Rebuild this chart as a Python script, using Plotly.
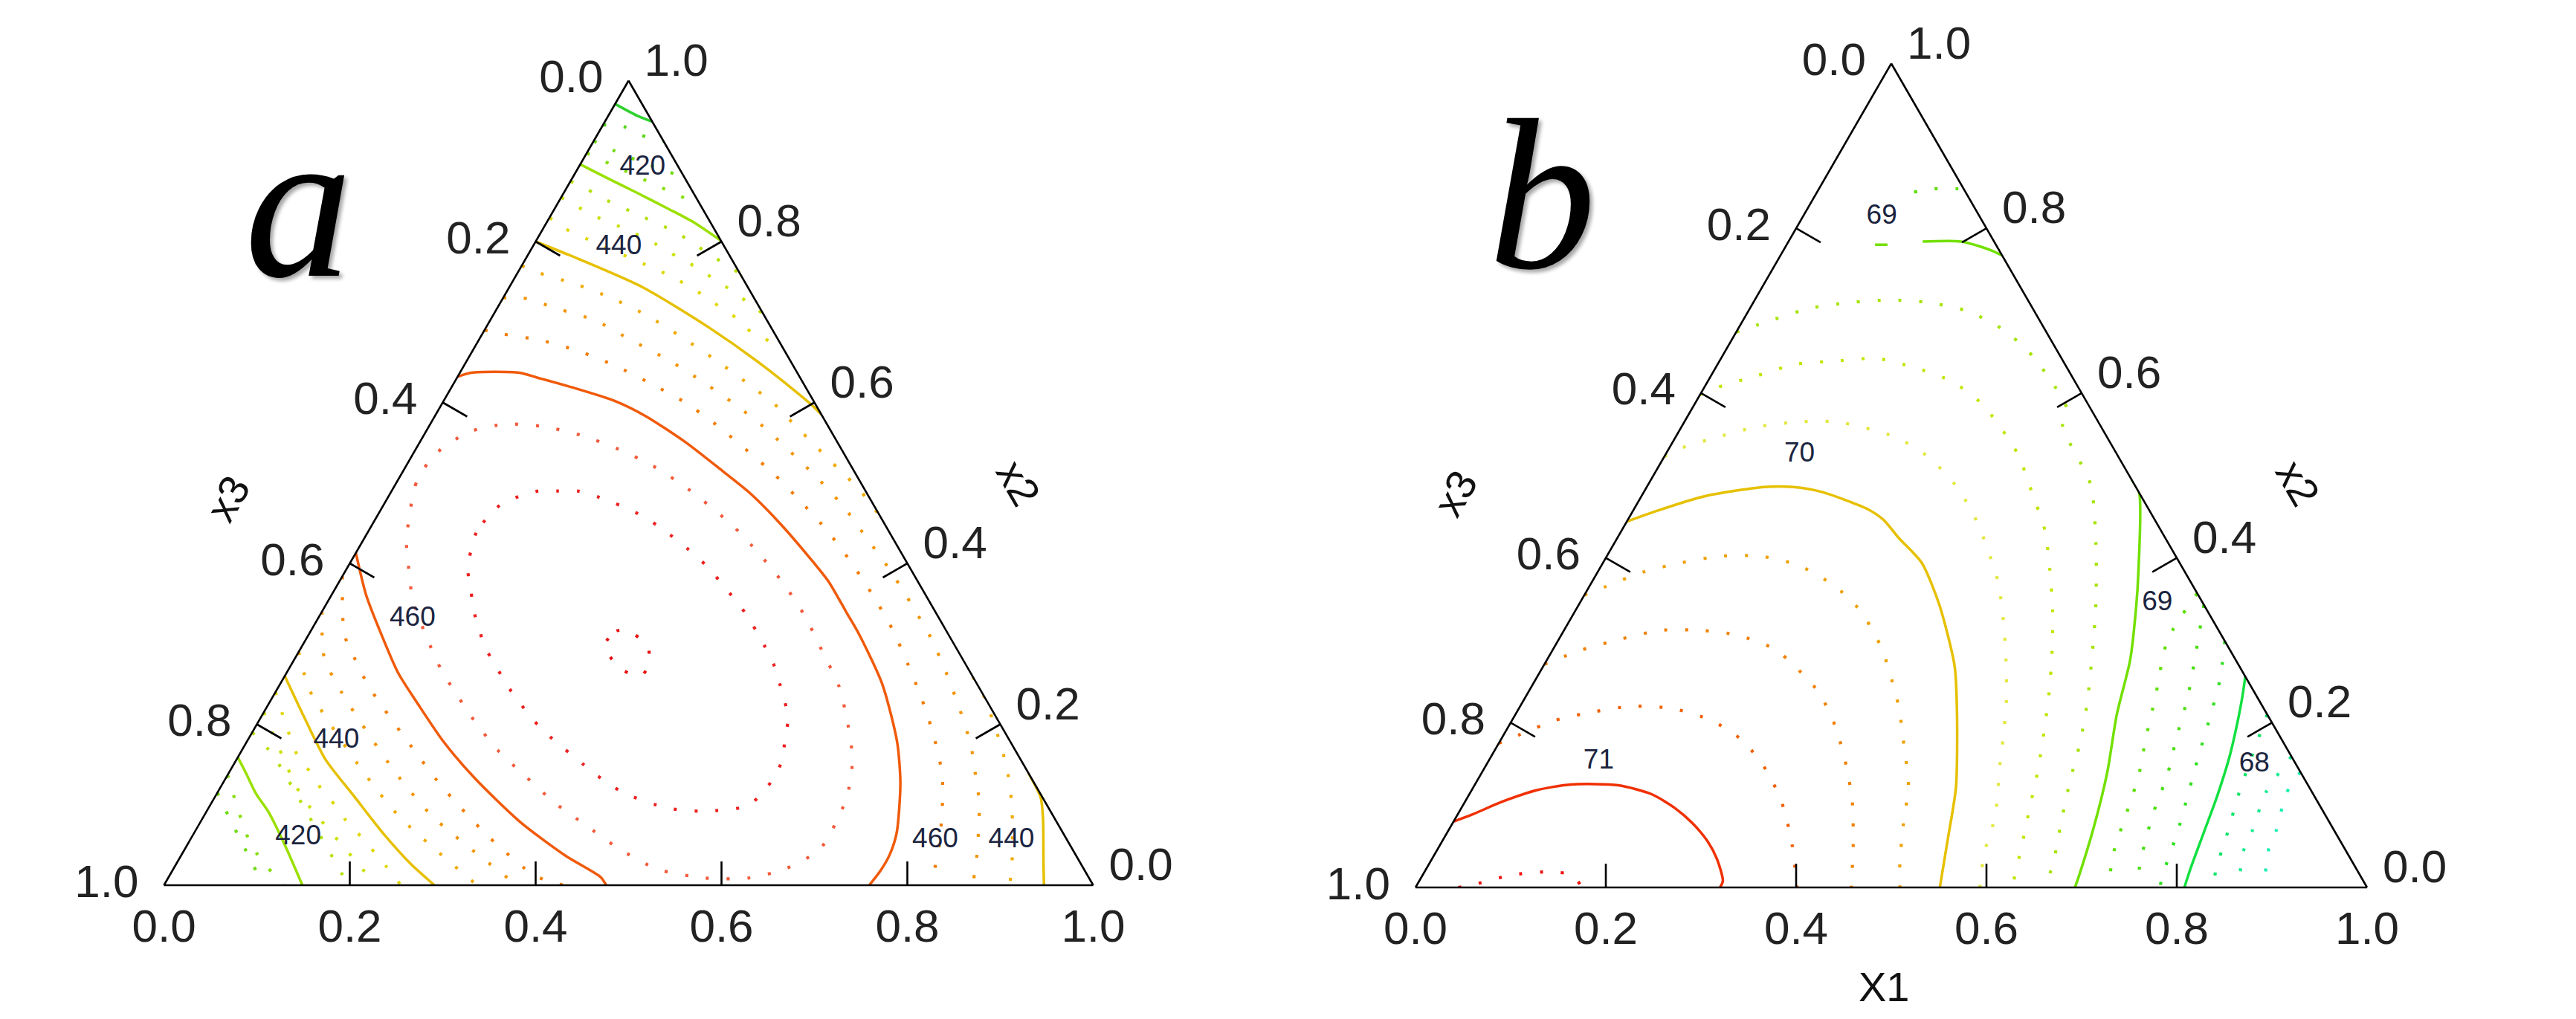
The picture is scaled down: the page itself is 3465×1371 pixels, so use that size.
import plotly.graph_objects as go

# ============================ DATA ============================
# Ternary mapping: top vertex = x2, bottom-left = x3, bottom-right = X1
# Contour lines are stored as (X1, x2) fractions; x3 = 1 - X1 - x2.

tick_vals = [0.0, 0.2, 0.4, 0.6, 0.8, 1.0]
tick_text = ["1.0", "0.8", "0.6", "0.4", "0.2", "0.0"]
edge_tick_vals = [0.2, 0.4, 0.6, 0.8]

# ---------- panel a ----------
A400_x1 = [0.0, 0.032, 0.051]
A400_x2 = [0.971, 0.956, 0.949]
A405_x1 = [0.0, 0.023, 0.048, 0.075]
A405_x2 = [0.945, 0.943, 0.932, 0.925]
A410_x1 = [0.0, 0.035, 0.075, 0.12]
A410_x2 = [0.925, 0.91, 0.895, 0.88]
A415_x1 = [0.0, 0.04, 0.09, 0.155]
A415_x2 = [0.91, 0.893, 0.872, 0.845]
A420_top_x1 = [0.0, 0.033, 0.080, 0.124, 0.158, 0.199]
A420_top_x2 = [0.896, 0.881, 0.860, 0.840, 0.824, 0.801]
A425_top_x1 = [0.0, 0.023, 0.047, 0.097, 0.123, 0.145, 0.170, 0.240]
A425_top_x2 = [0.875, 0.865, 0.853, 0.832, 0.821, 0.812, 0.798, 0.760]
A430_top_x1 = [0.0, 0.022, 0.047, 0.095, 0.143, 0.169, 0.192, 0.217, 0.242, 0.265, 0.290]
A430_top_x2 = [0.855, 0.844, 0.832, 0.813, 0.791, 0.777, 0.767, 0.752, 0.739, 0.725, 0.710]
A435_top_x1 = [0.0, 0.024, 0.169, 0.216, 0.240, 0.265, 0.289, 0.330]
A435_top_x2 = [0.830, 0.816, 0.756, 0.732, 0.718, 0.704, 0.687, 0.670]
A440_top_x1 = [0.0, 0.058, 0.144, 0.242, 0.328, 0.400, 0.415]
A440_top_x2 = [0.800, 0.778, 0.743, 0.692, 0.642, 0.596, 0.585]
A445_top_x1 = [0.0, 0.023, 0.070, 0.116, 0.166, 0.217, 0.267, 0.314, 0.358, 0.382, 0.476, 0.500, 0.521, 0.541]
A445_top_x2 = [0.770, 0.761, 0.747, 0.730, 0.708, 0.681, 0.653, 0.625, 0.598, 0.580, 0.511, 0.494, 0.476, 0.459]
A450_top_x1 = [0.0, 0.021, 0.067, 0.113, 0.165, 0.216, 0.261, 0.310, 0.360, 0.453, 0.498, 0.541, 0.584,
               0.631, 0.673, 0.709, 0.746, 0.782, 0.811, 0.826, 0.861, 0.870]
A450_top_x2 = [0.730, 0.730, 0.716, 0.702, 0.677, 0.653, 0.629, 0.601, 0.570, 0.504, 0.469, 0.431, 0.393,
               0.348, 0.306, 0.265, 0.220, 0.173, 0.127, 0.103, 0.026, 0.0]
A455_top_x1 = [0.0, 0.023, 0.068, 0.114, 0.162, 0.211, 0.259, 0.307, 0.401, 0.448, 0.493, 0.537, 0.583,
               0.624, 0.663, 0.701, 0.736, 0.769, 0.791, 0.810, 0.820, 0.826]
A455_top_x2 = [0.690, 0.685, 0.677, 0.664, 0.646, 0.624, 0.601, 0.573, 0.511, 0.476, 0.441, 0.403, 0.360,
               0.319, 0.275, 0.230, 0.185, 0.137, 0.093, 0.048, 0.018, 0.0]
A460_x1 = [0.0, 0.012, 0.064, 0.086, 0.129, 0.184, 0.227, 0.287, 0.345, 0.386, 0.439, 0.495, 0.527,
           0.565, 0.592, 0.648, 0.700, 0.729, 0.756, 0.762, 0.762, 0.759]
A460_x2 = [0.632, 0.637, 0.637, 0.631, 0.619, 0.602, 0.583, 0.550, 0.514, 0.488, 0.449, 0.404, 0.377,
           0.339, 0.312, 0.250, 0.178, 0.127, 0.065, 0.038, 0.017, 0.0]
A460_bl_x1 = [0.0, 0.037, 0.077, 0.120, 0.161, 0.211, 0.268, 0.345, 0.415, 0.465, 0.476]
A460_bl_x2 = [0.413, 0.361, 0.313, 0.264, 0.225, 0.179, 0.133, 0.078, 0.036, 0.010, 0.0]
A465_x1 = [0.047, 0.022, 0.021, 0.024, 0.046, 0.081, 0.124, 0.170, 0.218, 0.266, 0.317, 0.387, 0.432,
           0.478, 0.523, 0.561, 0.603, 0.634, 0.663, 0.680, 0.685, 0.683, 0.658, 0.625, 0.578, 0.521,
           0.464, 0.416, 0.370, 0.319, 0.275, 0.230, 0.187, 0.167, 0.127, 0.090, 0.073, 0.047]
A465_x2 = [0.428, 0.497, 0.518, 0.536, 0.563, 0.573, 0.570, 0.559, 0.542, 0.521, 0.493, 0.448, 0.414,
           0.376, 0.334, 0.293, 0.247, 0.203, 0.156, 0.110, 0.064, 0.043, 0.020, 0.009, 0.009, 0.020,
           0.047, 0.075, 0.102, 0.137, 0.168, 0.206, 0.246, 0.265, 0.310, 0.355, 0.383, 0.428]
A470_x1 = [0.120, 0.117, 0.122, 0.131, 0.148, 0.162, 0.179, 0.197, 0.219, 0.239, 0.282, 0.303, 0.327,
           0.375, 0.397, 0.437, 0.493, 0.536, 0.580, 0.586, 0.590, 0.587, 0.578, 0.569, 0.555, 0.537,
           0.521, 0.499, 0.459, 0.437, 0.415, 0.392, 0.367, 0.318, 0.293, 0.270, 0.247, 0.225, 0.200,
           0.179, 0.158, 0.140, 0.127, 0.120]
A470_x2 = [0.459, 0.438, 0.417, 0.392, 0.365, 0.342, 0.320, 0.296, 0.275, 0.254, 0.216, 0.199, 0.182,
           0.151, 0.137, 0.115, 0.096, 0.092, 0.099, 0.116, 0.133, 0.158, 0.180, 0.205, 0.227, 0.251,
           0.272, 0.296, 0.336, 0.355, 0.373, 0.392, 0.410, 0.441, 0.455, 0.466, 0.475, 0.483, 0.490,
           0.490, 0.490, 0.483, 0.475, 0.459]
A475_x1 = [0.325, 0.329, 0.342, 0.373, 0.385, 0.384, 0.375, 0.352, 0.325]
A475_x2 = [0.299, 0.316, 0.316, 0.296, 0.272, 0.261, 0.261, 0.272, 0.299]
A410_bl_x1 = [0.0, 0.020, 0.107]
A410_bl_x2 = [0.115, 0.093, 0.0]
A415_bl_x1 = [0.0, 0.069, 0.128]
A415_bl_x2 = [0.137, 0.050, 0.0]
A420_bl_x1 = [0.0, 0.018, 0.042, 0.067, 0.106, 0.149]
A420_bl_x2 = [0.159, 0.140, 0.114, 0.091, 0.049, 0.0]
A425_bl_x1 = [0.0, 0.034, 0.055, 0.189, 0.198]
A425_bl_x2 = [0.190, 0.164, 0.144, 0.0095, 0.0]
A430_bl_x1 = [0.0, 0.077, 0.098, 0.216, 0.225]
A430_bl_x2 = [0.215, 0.127, 0.106, 0.0095, 0.0]
A435_bl_x1 = [0.0, 0.066, 0.092, 0.110, 0.135, 0.155, 0.176, 0.228, 0.255]
A435_bl_x2 = [0.240, 0.158, 0.137, 0.119, 0.099, 0.081, 0.065, 0.023, 0.0]
A440_bl_x1 = [0.0, 0.050, 0.096, 0.150, 0.203, 0.253, 0.291]
A440_bl_x2 = [0.260, 0.205, 0.156, 0.110, 0.065, 0.026, 0.0]
A445_bl_x1 = [0.0, 0.036, 0.144, 0.211, 0.337]
A445_bl_x2 = [0.290, 0.242, 0.141, 0.085, 0.0]
A450_bl_x1 = [0.0, 0.031, 0.072, 0.178, 0.247, 0.380]
A450_bl_x2 = [0.340, 0.283, 0.239, 0.141, 0.085, 0.0]
A455_bl_x1 = [0.0, 0.038, 0.057, 0.097, 0.229, 0.273, 0.321, 0.393, 0.430]
A455_bl_x2 = [0.384, 0.312, 0.290, 0.247, 0.130, 0.095, 0.059, 0.012, 0.0]
A440_br_x1 = [0.861, 0.889, 0.905, 0.933, 0.947]
A440_br_x2 = [0.139, 0.109, 0.082, 0.027, 0.0]
A445_br_x1 = [0.741, 0.765, 0.799, 0.834, 0.863, 0.901, 0.910]
A445_br_x2 = [0.259, 0.237, 0.193, 0.146, 0.099, 0.023, 0.0]

A_label_text = ["420", "440", "460", "440", "420", "460", "440"]
A_label_x1 = [0.069, 0.093, 0.102, 0.096, 0.115, 0.802, 0.884]
A_label_x2 = [0.892, 0.793, 0.331, 0.179, 0.059, 0.056, 0.056]

# ---------- panel b ----------
B6875_top_x1 = [0.102, 0.121, 0.145, 0.152]
B6875_top_x2 = [0.844, 0.848, 0.848, 0.848]
B69_top_x1 = [0.093, 0.106, None, 0.141, 0.181, 0.201, 0.219, 0.233]
B69_top_x2 = [0.780, 0.780, None, 0.784, 0.784, 0.779, 0.773, 0.767]
B6925_x1 = [0.0, 0.031, 0.063, 0.102, 0.142, 0.184, 0.232, 0.281, 0.326, 0.370, 0.394, 0.400, 0.465,
            0.506, 0.543, 0.565, 0.595, 0.611, 0.623, 0.638, 0.654, 0.662]
B6925_x2 = [0.674, 0.689, 0.703, 0.710, 0.713, 0.710, 0.699, 0.676, 0.645, 0.606, 0.581, 0.560, 0.489,
            0.418, 0.344, 0.294, 0.221, 0.174, 0.130, 0.082, 0.034, 0.0]
B695_x1 = [0.0, 0.014, 0.048, 0.082, 0.123, 0.164, 0.209, 0.257, 0.303, 0.369, 0.406, 0.445, 0.473,
           0.501, 0.525, 0.547, 0.566, 0.583, 0.597, 0.612, 0.626, 0.628]
B695_x2 = [0.598, 0.607, 0.621, 0.635, 0.639, 0.642, 0.631, 0.614, 0.586, 0.527, 0.482, 0.433, 0.387,
           0.337, 0.288, 0.238, 0.189, 0.142, 0.097, 0.050, 0.004, 0.0]
B6975_x1 = [0.0, 0.012, 0.045, 0.079, 0.119, 0.161, 0.230, 0.277, 0.326, 0.368, 0.426, 0.454, 0.482,
            0.507, 0.527, 0.538, 0.566, 0.577, 0.593]
B6975_x2 = [0.523, 0.533, 0.547, 0.559, 0.565, 0.565, 0.547, 0.523, 0.486, 0.444, 0.372, 0.327, 0.277,
            0.228, 0.181, 0.153, 0.086, 0.041, 0.0]
B70_x1 = [0.0, 0.025, 0.067, 0.123, 0.154, 0.187, 0.246, 0.269, 0.296, 0.335, 0.379, 0.432, 0.462,
          0.507, 0.531, 0.551]
B70_x2 = [0.444, 0.457, 0.475, 0.486, 0.486, 0.480, 0.459, 0.446, 0.424, 0.394, 0.343, 0.269, 0.214,
          0.122, 0.056, 0.0]
B7025_x1 = [0.0, 0.017, 0.048, 0.082, 0.119, 0.162, 0.207, 0.259, 0.302, 0.326, 0.346, 0.397, 0.428,
            0.456, 0.475, 0.494, 0.509]
B7025_x2 = [0.355, 0.365, 0.383, 0.394, 0.402, 0.402, 0.391, 0.365, 0.334, 0.310, 0.289, 0.221, 0.171,
            0.124, 0.075, 0.030, 0.0]
B705_x1 = [0.0, 0.030, 0.064, 0.101, 0.144, 0.186, 0.235, 0.304, 0.343, 0.380, 0.407, 0.433, 0.458]
B705_x2 = [0.271, 0.288, 0.301, 0.312, 0.312, 0.306, 0.288, 0.238, 0.196, 0.146, 0.104, 0.054, 0.0]
B7075_x1 = [0.0, 0.016, 0.046, 0.080, 0.118, 0.162, 0.209, 0.255, 0.301, 0.339, 0.371, 0.401]
B7075_x2 = [0.175, 0.185, 0.203, 0.213, 0.220, 0.217, 0.203, 0.178, 0.139, 0.096, 0.050, 0.0]
B71_x1 = [0.0, 0.016, 0.039, 0.068, 0.101, 0.151, 0.192, 0.225, 0.252, 0.279, 0.300, 0.319, 0.320]
B71_x2 = [0.080, 0.089, 0.104, 0.118, 0.125, 0.124, 0.113, 0.096, 0.078, 0.056, 0.034, 0.008, 0.0]
B7125_x1 = [0.045, 0.061, 0.093, 0.132, 0.157, 0.175]
B7125_x2 = [0.0, 0.004, 0.015, 0.019, 0.015, 0.0]
B69_right_x1 = [0.505, 0.521, 0.570, 0.586, 0.613, 0.632, 0.657, 0.676, 0.690, 0.693]
B69_right_x2 = [0.495, 0.479, 0.379, 0.343, 0.276, 0.210, 0.140, 0.074, 0.015, 0.0]
B6875_right_x1 = [0.643, 0.640, 0.662, 0.677, 0.692, 0.702, 0.712, 0.728]
B6875_right_x2 = [0.357, 0.301, 0.231, 0.181, 0.136, 0.091, 0.044, 0.0]
B685_x1 = [0.657, 0.672, 0.696, 0.709, 0.722, 0.730, 0.742, 0.757]
B685_x2 = [0.343, 0.301, 0.231, 0.181, 0.136, 0.091, 0.045, 0.0]
B6825_x1 = [0.701, 0.719, 0.732, 0.744, 0.767, 0.776, 0.782]
B6825_x2 = [0.299, 0.253, 0.205, 0.156, 0.068, 0.023, 0.0]
B68_x1 = [0.744, 0.753, 0.765, 0.776, 0.787, 0.795, 0.803, 0.808]
B68_x2 = [0.256, 0.232, 0.196, 0.159, 0.111, 0.067, 0.023, 0.0]
B6775_x1 = [0.790, 0.808, 0.820, 0.830, 0.838]
B6775_x2 = [0.210, 0.115, 0.067, 0.023, 0.0]
B675_x1 = [0.841, 0.836, 0.845, 0.848, 0.865]
B675_x2 = [0.159, 0.115, 0.069, 0.044, 0.0]
B6725_x1 = [0.860, 0.858, 0.870, 0.874, 0.892]
B6725_x2 = [0.140, 0.115, 0.069, 0.044, 0.0]

B_label_text = ["69", "70", "71", "69", "68"]
B_label_x1 = [0.083, 0.141, 0.116, 0.607, 0.807]
B_label_x2 = [0.814, 0.525, 0.153, 0.345, 0.149]

# level -> colour
colors_a = {400: "#2fd22f", 405: "#55d81a", 410: "#6edb10", 415: "#86de08", 420: "#9ae000",
            425: "#b4e000", 430: "#cbe000", 435: "#dfd800", 440: "#e6c000", 445: "#f0aa00",
            450: "#f29400", 455: "#f27c00", 460: "#f05a0a", 465: "#f25a3a", 470: "#ec2020",
            475: "#e81010"}
colors_b = {67.25: "#19f0b0", 67.5: "#14ec90", 67.75: "#10e468", 68: "#12e040", 68.25: "#30e020",
            68.5: "#48e010", 68.75: "#5ce000", 69: "#72e000", 69.25: "#a4e400", 69.5: "#c4e400",
            69.75: "#e2e840", 70: "#e6c000", 70.25: "#eea000", 70.5: "#f08000", 70.75: "#f06000",
            71: "#f03000", 71.25: "#ee1010"}

panel_a_lines = [
    (400, A400_x1, A400_x2), (405, A405_x1, A405_x2), (410, A410_x1, A410_x2), (415, A415_x1, A415_x2),
    (420, A420_top_x1, A420_top_x2), (425, A425_top_x1, A425_top_x2), (430, A430_top_x1, A430_top_x2),
    (435, A435_top_x1, A435_top_x2), (440, A440_top_x1, A440_top_x2), (445, A445_top_x1, A445_top_x2),
    (450, A450_top_x1, A450_top_x2), (455, A455_top_x1, A455_top_x2), (460, A460_x1, A460_x2),
    (460, A460_bl_x1, A460_bl_x2), (465, A465_x1, A465_x2), (470, A470_x1, A470_x2),
    (475, A475_x1, A475_x2), (410, A410_bl_x1, A410_bl_x2), (415, A415_bl_x1, A415_bl_x2),
    (420, A420_bl_x1, A420_bl_x2), (425, A425_bl_x1, A425_bl_x2), (430, A430_bl_x1, A430_bl_x2),
    (435, A435_bl_x1, A435_bl_x2), (440, A440_bl_x1, A440_bl_x2), (445, A445_bl_x1, A445_bl_x2),
    (450, A450_bl_x1, A450_bl_x2), (455, A455_bl_x1, A455_bl_x2), (440, A440_br_x1, A440_br_x2),
    (445, A445_br_x1, A445_br_x2),
]
panel_b_lines = [
    (68.75, B6875_top_x1, B6875_top_x2), (69, B69_top_x1, B69_top_x2), (69.25, B6925_x1, B6925_x2),
    (69.5, B695_x1, B695_x2), (69.75, B6975_x1, B6975_x2), (70, B70_x1, B70_x2),
    (70.25, B7025_x1, B7025_x2), (70.5, B705_x1, B705_x2), (70.75, B7075_x1, B7075_x2),
    (71, B71_x1, B71_x2), (71.25, B7125_x1, B7125_x2), (69, B69_right_x1, B69_right_x2),
    (68.75, B6875_right_x1, B6875_right_x2), (68.5, B685_x1, B685_x2), (68.25, B6825_x1, B6825_x2),
    (68, B68_x1, B68_x2), (67.75, B6775_x1, B6775_x2), (67.5, B675_x1, B675_x2),
    (67.25, B6725_x1, B6725_x2),
]

# ============================ FIGURE ============================
W, H = 3465, 1371
TRI_A = (212.5, 1462.5, 100.5, 1183)     # left, right, top, bottom (px) of panel a triangle box
TRI_B = (1896, 3176, 77.5, 1186)
TICK_BOTTOM_PX = 32
TICK_SIDE_PX = 38


def to_abc(x1, x2):
    a, b, c = [], [], []
    for p, q in zip(x1, x2):
        if p is None or q is None:
            a.append(None); b.append(None); c.append(None)
        else:
            a.append(q); c.append(p); b.append(max(0.0, 1.0 - p - q))
    return a, b, c


fig = go.Figure()


def add_line(sub, x1, x2, color, solid):
    a, b, c = to_abc(x1, x2)
    fig.add_trace(go.Scatterternary(
        a=a, b=b, c=c, mode="lines", subplot=sub, showlegend=False, hoverinfo="skip",
        line=dict(color=color, width=3.5 if solid else 4.2,
                  dash="solid" if solid else "4px,24px", shape="spline", smoothing=0.7)))


for lvl, x1, x2 in panel_a_lines:
    add_line("ternary", x1, x2, colors_a[lvl], lvl % 20 == 0)
for lvl, x1, x2 in panel_b_lines:
    add_line("ternary2", x1, x2, colors_b[lvl], float(lvl).is_integer())


def add_labels(sub, texts, x1, x2):
    a, b, c = to_abc(x1, x2)
    fig.add_trace(go.Scatterternary(
        a=a, b=b, c=c, mode="text", text=texts, subplot=sub, showlegend=False, hoverinfo="skip",
        textfont=dict(family="Liberation Sans, Arial, sans-serif", size=37, color="#1b2440")))


add_labels("ternary", A_label_text, A_label_x1, A_label_x2)
add_labels("ternary2", B_label_text, B_label_x1, B_label_x2)


def add_edge_ticks(sub, tri):
    # inward ticks at the axis tick values on all three edges
    hpx = tri[3] - tri[2]
    tb = TICK_BOTTOM_PX / hpx
    ts = TICK_SIDE_PX / hpx
    x1s, x2s = [], []
    for v in edge_tick_vals:
        # bottom edge (X1 = v), vertical tick
        x1s += [v, v - tb / 2, None]
        x2s += [0.0, tb, None]
        # left edge (x3 = v), perpendicular tick
        x1s += [0.0, ts, None]
        x2s += [1 - v, 1 - v - ts / 2, None]
        # right edge (x2 = v), perpendicular tick
        x1s += [1 - v, 1 - v - ts / 2, None]
        x2s += [v, v - ts / 2, None]
    a, b, c = to_abc(x1s, x2s)
    fig.add_trace(go.Scatterternary(a=a, b=b, c=c, mode="lines", subplot=sub, showlegend=False,
                                    hoverinfo="skip", cliponaxis=False,
                                    line=dict(color="black", width=2.6)))


add_edge_ticks("ternary", TRI_A)
add_edge_ticks("ternary2", TRI_B)

tickfont = dict(family="Liberation Sans, Arial, sans-serif", size=62, color="#222222")
common = dict(tickmode="array", tickvals=tick_vals, ticktext=tick_text, tickwidth=1,
              linecolor="black", linewidth=2.6, showgrid=False, showline=True, tickfont=tickfont,
              title=dict(text=""), min=0)
side_ax = dict(common, ticks="outside", ticklen=26, tickcolor="rgba(0,0,0,0)")
bottom_ax = dict(common, ticks="")


def dom(tri):
    return dict(x=[tri[0] / W, tri[1] / W], y=[1 - tri[3] / H, 1 - tri[2] / H])


fig.update_layout(
    width=W, height=H, margin=dict(l=0, r=0, t=0, b=0),
    paper_bgcolor="white", plot_bgcolor="white",
    ternary=dict(domain=dom(TRI_A), bgcolor="white", sum=1,
                 aaxis=side_ax, baxis=bottom_ax, caxis=side_ax),
    ternary2=dict(domain=dom(TRI_B), bgcolor="white", sum=1,
                  aaxis=side_ax, baxis=bottom_ax, caxis=side_ax),
)

title_font = dict(family="Liberation Sans, Arial, sans-serif", size=56, color="#111111")
letter_font = dict(family="Liberation Serif, Times New Roman, serif", size=290, color="black",
                   style="italic", shadow="4px 4px 5px rgba(0,0,0,0.35)")
annos = [
    dict(text="a", x=393 / W, y=1 - 265 / H, font=letter_font),
    dict(text="b", x=2066 / W, y=1 - 255 / H, font=letter_font),
    dict(text="x3", x=298 / W, y=1 - 663 / H, textangle=-60, font=title_font),
    dict(text="x2", x=1362 / W, y=1 - 641 / H, textangle=60, font=title_font),
    dict(text="x3", x=1949 / W, y=1 - 656 / H, textangle=-60, font=title_font),
    dict(text="x2", x=3083 / W, y=1 - 641 / H, textangle=60, font=title_font),
    dict(text="X1", x=2526 / W, y=1 - 1319 / H, font=title_font),
]
for an in annos:
    fig.add_annotation(xref="paper", yref="paper", showarrow=False, xanchor="center",
                       yanchor="middle", **an)

fig.write_html("out.html")
